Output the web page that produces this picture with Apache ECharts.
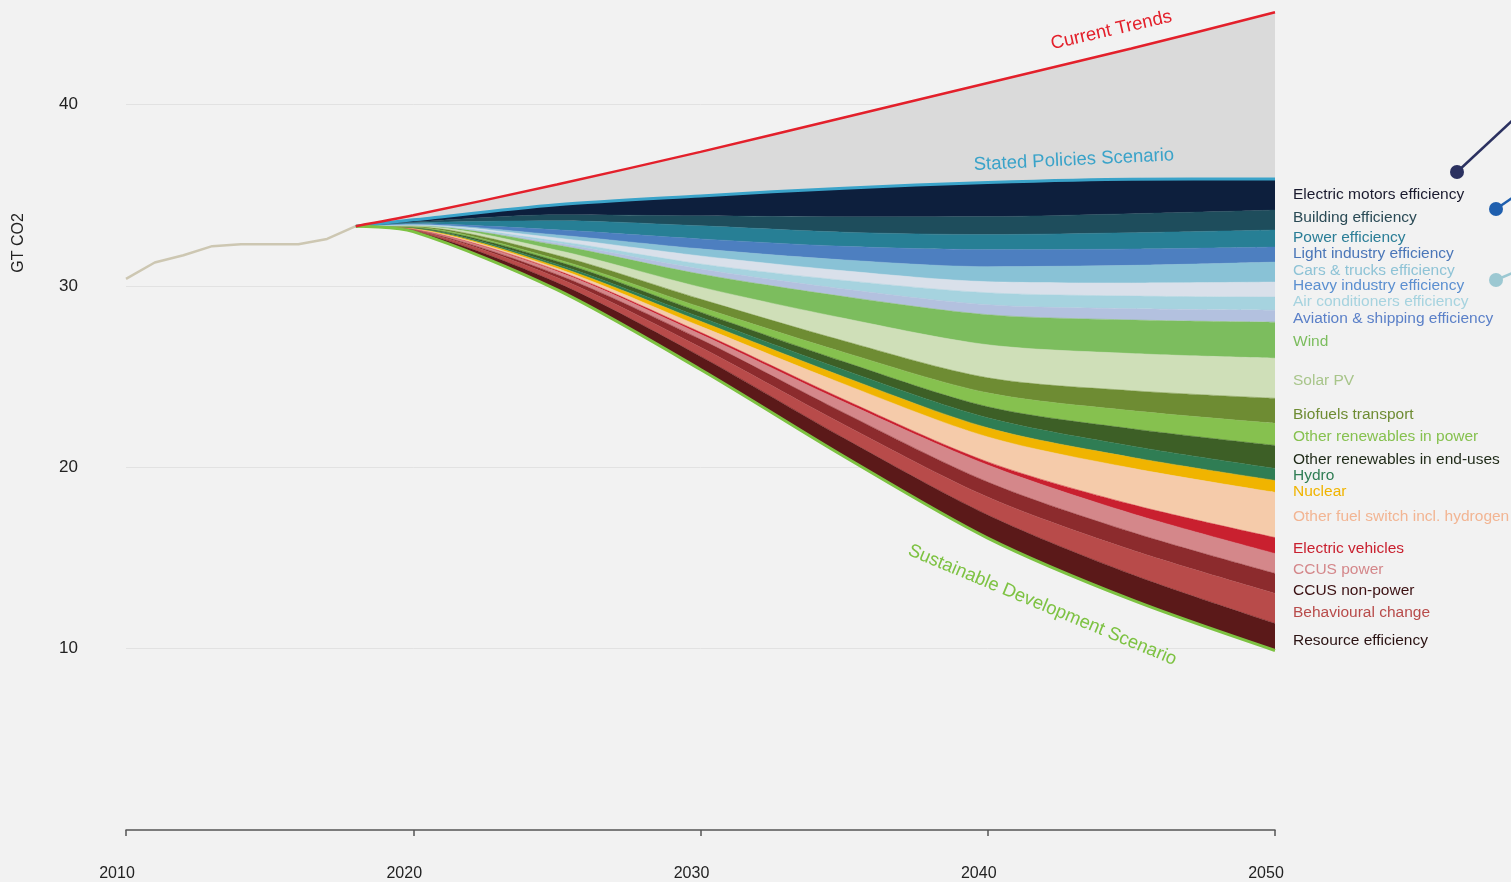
<!DOCTYPE html>
<html>
<head>
<meta charset="utf-8">
<script src="https://cdn.jsdelivr.net/npm/echarts@6/dist/echarts.min.js"></script>
<style>
  html, body { margin: 0; padding: 0; background: #f2f2f2; }
  #chart { width: 1511px; height: 882px; }
</style>
</head>
<body>
<div id="chart"></div>
<script>
// ---------- DATA ----------
const histYears  = [2010, 2011, 2012, 2013, 2014, 2015, 2016, 2017, 2018];
const histValues = [30.4, 31.3, 31.7, 32.2, 32.3, 32.3, 32.3, 32.6, 33.3];

const years = [2018, 2020, 2025, 2030, 2035, 2040, 2045, 2050];
const currentTrends  = [33.3, 33.9, 35.6, 37.4, 39.3, 41.2, 43.1, 45.1];
const statedPolicies = [33.3, 33.65, 34.48, 34.97, 35.4, 35.71, 35.89, 35.9];
const sustainableDev = [33.3, 33.0, 29.8, 25.4, 20.6, 16.1, 12.7, 9.9];

// wedges, listed from the bottom of the stack up (GT CO2 saved)
const wedgeNames = [
  'Resource efficiency', 'Behavioural change', 'CCUS non-power', 'CCUS power',
  'Electric vehicles', 'Other fuel switch incl. hydrogen', 'Nuclear', 'Hydro',
  'Other renewables in end-uses', 'Other renewables in power', 'Biofuels transport',
  'Solar PV', 'Wind', 'Aviation & shipping efficiency', 'Air conditioners efficiency',
  'Heavy industry efficiency', 'Cars & trucks efficiency', 'Light industry efficiency',
  'Power efficiency', 'Building efficiency', 'Electric motors efficiency'
];
const resourceEff   = [0, 0.06, 0.39, 0.72, 1.00, 1.27, 1.40, 1.49];
const behavioural   = [0, 0.04, 0.28, 0.50, 0.75, 0.99, 1.35, 1.66];
const ccusNonPower  = [0, 0.02, 0.17, 0.44, 0.65, 0.83, 0.98, 1.10];
const ccusPower     = [0, 0.02, 0.17, 0.28, 0.60, 0.94, 1.03, 1.10];
const electricVeh   = [0, 0.01, 0.06, 0.11, 0.14, 0.17, 0.50, 0.88];
const otherFuel     = [0, 0.02, 0.11, 0.33, 0.85, 1.38, 2.00, 2.49];
const nuclear       = [0, 0.02, 0.11, 0.28, 0.40, 0.50, 0.60, 0.66];
const hydro         = [0, 0.02, 0.11, 0.22, 0.38, 0.55, 0.62, 0.66];
const renewEndUse   = [0, 0.02, 0.17, 0.28, 0.45, 0.61, 0.95, 1.27];
const renewPower    = [0, 0.02, 0.11, 0.28, 0.52, 0.77, 1.00, 1.22];
const biofuels      = [0, 0.03, 0.22, 0.44, 0.63, 0.83, 1.10, 1.38];
const solarPV       = [0, 0.03, 0.28, 0.66, 1.25, 1.82, 2.05, 2.21];
const wind          = [0, 0.03, 0.28, 0.72, 1.20, 1.66, 1.85, 1.99];
const aviation      = [0, 0.01, 0.11, 0.28, 0.42, 0.55, 0.62, 0.66];
const airCond       = [0, 0.01, 0.11, 0.28, 0.47, 0.66, 0.70, 0.72];
const heavyInd      = [0, 0.02, 0.17, 0.44, 0.53, 0.61, 0.72, 0.83];
const carsTrucks    = [0, 0.02, 0.17, 0.39, 0.60, 0.83, 0.97, 1.10];
const lightInd      = [0, 0.03, 0.28, 0.55, 0.75, 0.94, 0.90, 0.83];
const powerEff      = [0, 0.06, 0.50, 0.72, 0.78, 0.83, 0.90, 0.94];
const buildingEff   = [0, 0.04, 0.33, 0.55, 0.85, 0.99, 1.05, 1.10];
const motorsEff     = [0, 0.12, 0.55, 1.10, 1.58, 1.88, 1.90, 1.71];
const wedgeValues = [resourceEff, behavioural, ccusNonPower, ccusPower, electricVeh,
  otherFuel, nuclear, hydro, renewEndUse, renewPower, biofuels, solarPV, wind, aviation,
  airCond, heavyInd, carsTrucks, lightInd, powerEff, buildingEff, motorsEff];

const xTicks = [2010, 2020, 2030, 2040, 2050];
const yTicks = [10, 20, 30, 40];
const axisTitle = 'GT CO2';

// ---------- STYLE / LAYOUT ----------
const wedgeColors = ['#5b1919', '#b84b4a', '#8c2b2d', '#d4878a', '#c9202f', '#f5cbaa',
  '#f0b400', '#2f7d54', '#3d5f26', '#86c14f', '#6e8c33', '#cfdfb8', '#7cbd5e', '#b3c1df',
  '#a6d3df', '#d9e0ea', '#89c2d6', '#4d7fc0', '#277f95', '#1e4d5c', '#0d1f3d'];
const labelColors = ['#2a1212', '#b84b4a', '#3b1012', '#d4878a', '#c9202f', '#f2b593',
  '#f0b400', '#2f7d54', '#1f2a18', '#86c14f', '#6e8c33', '#a8c58a', '#7cbd5e', '#5b80c8',
  '#a6d3df', '#5b8fd0', '#8ec3d6', '#4a76b8', '#2a7d96', '#2a4a55', '#1a1a2e'];
const labelY = [641, 613, 591, 570, 549, 517, 492, 476, 460, 437, 415, 381, 342, 319,
  302, 286, 271, 254, 238, 218, 195];

const FONT = '"Liberation Sans", Arial, Helvetica, sans-serif';
const SMOOTH = 0.3;

const chart = echarts.init(document.getElementById('chart'), null, { renderer: 'canvas' });

// rows are [value, year]; encode maps year to x so that stacking happens on the value
const rows = (xs, ys) => xs.map((x, i) => [ys[i], x]);
const ENC = { x: 1, y: 0 };

const series = [];
series.push({
  name: 'base', type: 'line', stack: 'fan', data: rows(years, sustainableDev), encode: ENC,
  smooth: SMOOTH, symbol: 'none', lineStyle: { width: 0, opacity: 0 }, silent: true, z: 2
});
wedgeNames.forEach((n, i) => {
  series.push({
    name: n, type: 'line', stack: 'fan', data: rows(years, wedgeValues[i]), encode: ENC,
    smooth: SMOOTH, symbol: 'none',
    lineStyle: { width: 0.5, color: wedgeColors[i] },
    areaStyle: { color: wedgeColors[i], opacity: 1 }, z: 2
  });
});
series.push({
  name: 'gap', type: 'line', stack: 'fan', encode: ENC,
  data: years.map((y, i) => [+(currentTrends[i] - statedPolicies[i]).toFixed(3), y]),
  smooth: SMOOTH, symbol: 'none',
  lineStyle: { width: 0 }, areaStyle: { color: '#dadada', opacity: 1 }, z: 1
});
series.push({
  name: 'History', type: 'line', data: rows(histYears, histValues), encode: ENC, symbol: 'none',
  lineStyle: { color: '#cdc7b2', width: 2.5 }, z: 3
});
series.push({
  name: 'Stated Policies Scenario', type: 'line', data: rows(years, statedPolicies), encode: ENC,
  smooth: SMOOTH, symbol: 'none', lineStyle: { color: '#3aa3c9', width: 3 }, z: 4
});
series.push({
  name: 'Sustainable Development Scenario', type: 'line', data: rows(years, sustainableDev), encode: ENC,
  smooth: SMOOTH, symbol: 'none', lineStyle: { color: '#7dc242', width: 3 }, z: 4
});
series.push({
  name: 'Current Trends', type: 'line', data: rows(years, currentTrends), encode: ENC,
  smooth: SMOOTH, symbol: 'none', lineStyle: { color: '#e3202b', width: 2.5 }, z: 4
});

const option = {
  backgroundColor: '#f2f2f2',
  animation: false,
  textStyle: { fontFamily: FONT },
  grid: { left: 126, right: 236, top: 5, bottom: 52, containLabel: false },
  xAxis: {
    type: 'value', min: 2010, max: 2050, interval: 10,
    axisLine: { show: true, lineStyle: { color: '#555', width: 1.5 } },
    axisTick: { show: true, length: 6, inside: false, lineStyle: { color: '#555', width: 1.5 } },
    axisLabel: {
      color: '#222', fontSize: 16, margin: 36, fontFamily: FONT,
      padding: [0, 18, 0, 0],
      formatter: v => (xTicks.indexOf(v) >= 0 ? String(v) : '')
    },
    splitLine: { show: false }
  },
  yAxis: {
    type: 'value', min: 0, max: 45.5, interval: 10,
    axisLine: { show: false }, axisTick: { show: false },
    axisLabel: {
      color: '#222', fontSize: 17, margin: 48, fontFamily: FONT,
      showMinLabel: false, showMaxLabel: false,
      formatter: v => (yTicks.indexOf(v) >= 0 ? String(v) : '')
    },
    splitLine: { show: true, showMinLine: false, showMaxLine: false, lineStyle: { color: '#e2e2e2', width: 1 } }
  },
  series: series
};
chart.setOption(option);

// ---------- ANNOTATIONS ----------
const annotations = [
  { text: 'Current Trends', at: [2044.3, 44.1], rot: 13, color: '#e3202b' },
  { text: 'Stated Policies Scenario', at: [2043.0, 36.95], rot: 2.8, color: '#3aa3c9' },
  { text: 'Sustainable Development Scenario', at: [2041.9, 12.4], rot: -22.5, color: '#7dc242' }
];
const graphics = [];
annotations.forEach(a => {
  const p = chart.convertToPixel({ gridIndex: 0 }, a.at);
  graphics.push({
    type: 'text', x: p[0], y: p[1], rotation: a.rot * Math.PI / 180, z: 10,
    style: { text: a.text, fill: a.color, font: '18.5px ' + FONT, align: 'center', verticalAlign: 'middle' }
  });
});
wedgeNames.forEach((n, i) => {
  graphics.push({
    type: 'text', x: 1293, y: labelY[i], z: 10,
    style: { text: n, fill: labelColors[i], font: '15.5px ' + FONT, align: 'left', verticalAlign: 'middle' }
  });
});
graphics.push({
  type: 'text', x: 19, y: 243, rotation: Math.PI / 2, z: 10,
  style: { text: axisTitle, fill: '#222', font: '16px ' + FONT, align: 'center', verticalAlign: 'middle' }
});
const dots = [
  { c: [1457, 172], to: [1515, 118], color: '#2b3160' },
  { c: [1496, 209], to: [1515, 196], color: '#1f5fae' },
  { c: [1496, 280], to: [1515, 272], color: '#9cc8d2' }
];
dots.forEach(d => {
  graphics.push({ type: 'line', z: 10, shape: { x1: d.c[0], y1: d.c[1], x2: d.to[0], y2: d.to[1] },
    style: { stroke: d.color, lineWidth: 2.5 } });
  graphics.push({ type: 'circle', z: 11, shape: { cx: d.c[0], cy: d.c[1], r: 7 }, style: { fill: d.color } });
});
chart.setOption({ graphic: graphics });
</script>
</body>
</html>
